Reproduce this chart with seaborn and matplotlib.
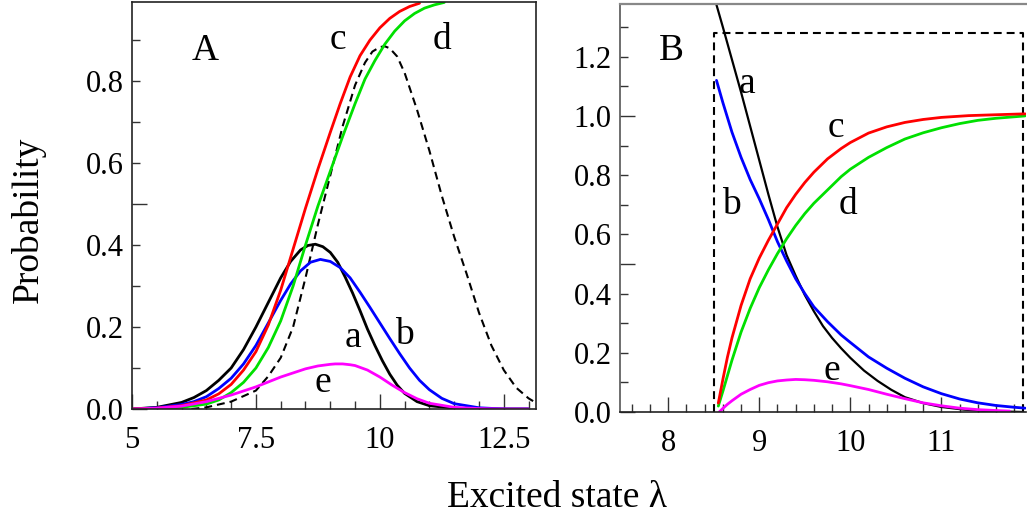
import matplotlib
matplotlib.use("Agg")
import matplotlib.pyplot as plt
from matplotlib.ticker import MultipleLocator, FixedLocator, FuncFormatter
import seaborn as sns

# ---------------- Panel A data ----------------
a_A_x = [5.0, 5.5, 6.0, 6.25, 6.5, 6.75, 7.0, 7.25, 7.5, 7.75, 8.0, 8.2, 8.4, 8.55, 8.7, 8.85,
         9.0, 9.15, 9.3, 9.45, 9.6, 9.75, 9.9, 10.05, 10.2, 10.35, 10.5, 10.75, 11.0, 11.5,
         12.0, 13.0]
a_A_y = [0.0, 0.004, 0.016, 0.028, 0.045, 0.07, 0.10, 0.145, 0.20, 0.26, 0.32, 0.36, 0.388,
         0.399, 0.402, 0.396, 0.382, 0.358, 0.322, 0.283, 0.24, 0.195, 0.155, 0.118, 0.085,
         0.058, 0.038, 0.018, 0.008, 0.002, 0.0, 0.0]

b_A_x = [5.0, 5.5, 6.0, 6.25, 6.5, 6.75, 7.0, 7.25, 7.5, 7.75, 8.0, 8.2, 8.4, 8.6, 8.8, 9.0,
         9.2, 9.4, 9.6, 9.8, 10.0, 10.2, 10.4, 10.6, 10.8, 11.0, 11.25, 11.5, 12.0, 12.5, 13.0]
b_A_y = [0.0, 0.003, 0.011, 0.018, 0.03, 0.05, 0.075, 0.11, 0.155, 0.21, 0.265, 0.305, 0.337,
         0.358, 0.365, 0.36, 0.345, 0.32, 0.285, 0.248, 0.21, 0.172, 0.135, 0.10, 0.07,
         0.047, 0.026, 0.013, 0.003, 0.0, 0.0]

c_A_x = [5.0, 5.5, 6.0, 6.5, 6.75, 7.0, 7.25, 7.5, 7.75, 8.0, 8.25, 8.5, 8.75, 9.0, 9.2, 9.4,
         9.6, 9.8, 10.0, 10.2, 10.4, 10.6, 10.8]
c_A_y = [0.0, 0.002, 0.008, 0.022, 0.037, 0.06, 0.095, 0.14, 0.205, 0.29, 0.39, 0.49, 0.585,
         0.675, 0.745, 0.81, 0.862, 0.90, 0.93, 0.953, 0.97, 0.982, 0.99]

d_A_x = [5.0, 5.5, 6.0, 6.5, 6.75, 7.0, 7.25, 7.5, 7.75, 8.0, 8.25, 8.5, 8.75, 9.0, 9.25, 9.5,
         9.7, 9.9, 10.1, 10.3, 10.5, 10.7, 10.9, 11.1, 11.3]
d_A_y = [0.0, 0.001, 0.004, 0.012, 0.022, 0.04, 0.065, 0.10, 0.15, 0.215, 0.30, 0.40, 0.495,
         0.58, 0.665, 0.745, 0.805, 0.85, 0.89, 0.922, 0.947, 0.965, 0.978, 0.986, 0.992]

dash_A_x = [6.2, 6.5, 7.0, 7.5, 7.75, 8.0, 8.25, 8.5, 8.75, 9.0, 9.25, 9.5, 9.7, 9.85, 10.0,
            10.1, 10.2, 10.35, 10.5, 10.75, 11.0, 11.25, 11.5, 11.75, 12.0, 12.25, 12.5,
            12.75, 13.0, 13.15]
dash_A_y = [0.0, 0.004, 0.018, 0.045, 0.08, 0.125, 0.20, 0.32, 0.45, 0.57, 0.69, 0.79, 0.845,
            0.872, 0.883, 0.885, 0.88, 0.86, 0.82, 0.73, 0.63, 0.52, 0.42, 0.33, 0.235, 0.155,
            0.095, 0.052, 0.026, 0.015]

e_A_x = [5.0, 5.5, 6.0, 6.5, 7.0, 7.5, 8.0, 8.5, 8.75, 9.0, 9.1, 9.25, 9.4, 9.5, 9.75, 10.0,
         10.25, 10.5, 10.75, 11.0, 11.5, 12.0, 12.5, 13.0]
e_A_y = [0.0, 0.002, 0.007, 0.018, 0.034, 0.054, 0.078, 0.098, 0.105, 0.109, 0.11, 0.11, 0.108,
         0.106, 0.095, 0.078, 0.058, 0.04, 0.025, 0.014, 0.004, 0.001, 0.0, 0.0]

# ---------------- Panel B data ----------------
a_B_x = [8.53, 8.6, 8.7, 8.8, 8.9, 9.0, 9.1, 9.2, 9.3, 9.4, 9.5, 9.6, 9.7, 9.8, 9.9, 10.0,
         10.15, 10.3, 10.45, 10.6, 10.8, 11.0, 11.25, 11.5, 11.9]
a_B_y = [1.375, 1.30, 1.19, 1.08, 0.965, 0.85, 0.735, 0.625, 0.53, 0.46, 0.395, 0.34, 0.29,
         0.25, 0.215, 0.183, 0.14, 0.105, 0.075, 0.05, 0.03, 0.017, 0.008, 0.003, 0.0]

b_B_x = [8.53, 8.6, 8.7, 8.8, 8.9, 9.0, 9.1, 9.2, 9.3, 9.4, 9.5, 9.6, 9.75, 9.9, 10.0, 10.2,
         10.4, 10.6, 10.8, 11.0, 11.2, 11.4, 11.6, 11.8, 11.92]
b_B_y = [1.12, 1.045, 0.945, 0.86, 0.785, 0.72, 0.65, 0.575, 0.51, 0.45, 0.40, 0.355, 0.305,
         0.26, 0.235, 0.186, 0.148, 0.114, 0.085, 0.062, 0.044, 0.031, 0.022, 0.016, 0.013]

c_B_x = [8.55, 8.6, 8.65, 8.7, 8.8, 8.9, 9.0, 9.1, 9.2, 9.3, 9.4, 9.5, 9.6, 9.75, 9.9, 10.0,
         10.2, 10.4, 10.6, 10.8, 11.0, 11.3, 11.6, 11.92]
c_B_y = [0.03, 0.11, 0.185, 0.25, 0.36, 0.45, 0.52, 0.58, 0.635, 0.69, 0.735, 0.775, 0.81,
         0.855, 0.89, 0.91, 0.942, 0.963, 0.978, 0.988, 0.995, 1.001, 1.004, 1.007]

d_B_x = [8.55, 8.6, 8.7, 8.8, 8.9, 9.0, 9.1, 9.2, 9.3, 9.4, 9.5, 9.6, 9.75, 9.9, 10.0, 10.2,
         10.4, 10.6, 10.8, 11.0, 11.2, 11.4, 11.6, 11.92]
d_B_y = [0.02, 0.07, 0.175, 0.27, 0.35, 0.42, 0.48, 0.535, 0.585, 0.63, 0.67, 0.705, 0.75,
         0.795, 0.82, 0.86, 0.893, 0.922, 0.943, 0.96, 0.974, 0.985, 0.992, 1.0]

e_B_x = [8.56, 8.6, 8.65, 8.7, 8.8, 8.9, 9.0, 9.1, 9.2, 9.3, 9.4, 9.5, 9.6, 9.75, 9.9, 10.0,
         10.2, 10.4, 10.6, 10.8, 11.0, 11.2, 11.4, 11.6, 11.75]
e_B_y = [0.0, 0.012, 0.026, 0.038, 0.06, 0.076, 0.09, 0.099, 0.105, 0.108, 0.11, 0.109, 0.107,
         0.102, 0.095, 0.089, 0.076, 0.06, 0.045, 0.031, 0.021, 0.013, 0.008, 0.005, 0.003]

rect_B_x = [8.5, 8.5, 11.9, 11.9]
rect_B_y = [0.0, 1.28, 1.28, 0.0]

xticks_A = [5, 7.5, 10, 12.5]
xticklabels_A = ["5", "7.5", "10", "12.5"]
xticks_B = [8, 9, 10, 11]

# ---------------- styling ----------------
sns.set_theme(style="ticks")
plt.rcParams["font.family"] = ["Liberation Serif", "DejaVu Serif"]
plt.rcParams["text.color"] = "black"
plt.rcParams["axes.labelcolor"] = "black"

RED = "#ff0000"
GREEN = "#00e000"
BLUE = "#0000ff"
MAG = "#ff00ff"
BLK = "#000000"
LW = 2.0
DASH = (0, (3.8, 2.4))

W, H = 1027, 518
fig = plt.figure(figsize=(W / 100, H / 100), dpi=100)
fig.patch.set_facecolor("white")


def px_axes(l, t, r, b):
    return fig.add_axes([l / W, 1 - b / H, (r - l) / W, (b - t) / H])


axA = px_axes(132, 2, 536, 409)
axB = px_axes(620, 4, 1026, 412)


def line(ax, x, y, color, lw=LW, ls="-"):
    sns.lineplot(x=x, y=y, ax=ax, color=color, linewidth=lw, linestyle=ls,
                 sort=False, estimator=None, legend=False)


# Panel A
line(axA, dash_A_x, dash_A_y, BLK, lw=1.5, ls=DASH)
line(axA, a_A_x, a_A_y, BLK)
line(axA, b_A_x, b_A_y, BLUE)
line(axA, d_A_x, d_A_y, GREEN)
line(axA, c_A_x, c_A_y, RED)
line(axA, e_A_x, e_A_y, MAG)

# Panel B
line(axB, rect_B_x, rect_B_y, BLK, lw=1.5, ls=DASH)
line(axB, a_B_x, a_B_y, BLK, lw=1.6)
line(axB, b_B_x, b_B_y, BLUE)
line(axB, d_B_x, d_B_y, GREEN)
line(axB, c_B_x, c_B_y, RED)
line(axB, e_B_x, e_B_y, MAG)

axA.set_xlim(5, 13.15)
axA.set_ylim(0, 0.993)
axB.set_xlim(7.47, 11.93)
axB.set_ylim(0, 1.378)

even_fmt = FuncFormatter(lambda v, p: f"{v:.1f}" if round(v * 10) % 2 == 0 else "")

# Panel A ticks
axA.xaxis.set_major_locator(FixedLocator(xticks_A))
axA.set_xticklabels(xticklabels_A)
axA.xaxis.set_minor_locator(MultipleLocator(0.5))
axA.yaxis.set_major_locator(FixedLocator([0.0, 0.5]))
axA.yaxis.set_major_formatter(even_fmt)
axA.yaxis.set_minor_locator(MultipleLocator(0.1))
axA.yaxis.set_minor_formatter(even_fmt)

# Panel B ticks
axB.xaxis.set_major_locator(FixedLocator(xticks_B))
axB.xaxis.set_minor_locator(MultipleLocator(0.2))
axB.yaxis.set_major_locator(FixedLocator([0.0, 0.5, 1.0]))
axB.yaxis.set_major_formatter(even_fmt)
axB.yaxis.set_minor_locator(MultipleLocator(0.1))
axB.yaxis.set_minor_formatter(even_fmt)

for ax in (axA, axB):
    ax.set_xlabel("")
    ax.set_ylabel("")
    ax.tick_params(which="both", direction="in", labelsize=22, colors="#333333",
                   labelcolor="black", width=1.0)
    ax.tick_params(which="major", length=11)
    ax.tick_params(which="minor", length=6)
    ax.tick_params(axis="x", which="both", pad=12)
    ax.tick_params(axis="y", which="both", pad=6)
    for s in ax.spines.values():
        s.set_linewidth(1.2)
        s.set_color("#222222")
    ax.set_facecolor("white")

axB.spines["top"].set_color("#888888")
axB.spines["top"].set_linewidth(1.6)
axB.spines["left"].set_color("#555555")
axB.spines["right"].set_visible(False)

# curve labels
FS = 27
for (x, y, s) in [(6.47, 0.875, "A"), (9.15, 0.90, "c"), (11.25, 0.90, "d"),
                  (9.46, 0.175, "a"), (10.5, 0.18, "b"), (8.85, 0.065, "e")]:
    axA.text(x, y, s, fontsize=FS, ha="center", va="center", color="black")
for (x, y, s) in [(8.03, 1.22, "B"), (8.86, 1.11, "a"), (8.69, 0.70, "b"),
                  (9.84, 0.96, "c"), (9.98, 0.70, "d"), (9.8, 0.14, "e")]:
    axB.text(x, y, s, fontsize=FS, ha="center", va="center", color="black")

fig.text(28 / W, 1 - 220 / H, "Probability", rotation=90, fontsize=27,
         ha="center", va="center", color="black")
fig.text(557 / W, 1 - 507 / H, "Excited state λ", fontsize=27, ha="center",
         va="baseline", color="black")

fig.savefig("out.png", dpi=100, facecolor="white")
